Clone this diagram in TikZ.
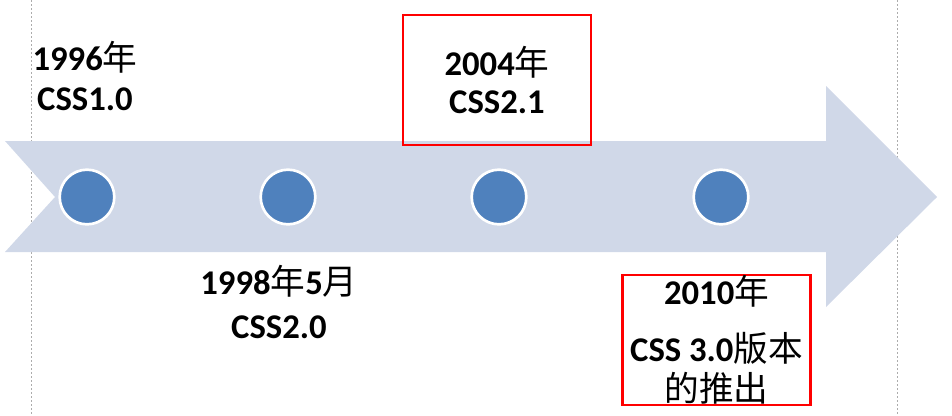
\documentclass[tikz,border=0pt]{standalone}
\usepackage{fontspec}
\setmainfont{Carlito}
\newfontfamily\zhfont{Noto Sans CJK SC}
\newcommand\cn[1]{{\zhfont\mdseries #1}}
\definecolor{shaftgrey}{HTML}{D0D8E8}
\definecolor{dotblue}{HTML}{4F81BD}
\begin{document}
\begin{tikzpicture}[
  x=0.75pt, y=-0.75pt,
  every node/.style={font=\fontsize{26}{30}\selectfont\bfseries, align=center, inner sep=0pt},
  label/.style={anchor=base},
  dot/.style={circle, fill=dotblue, draw=white, line width=2pt, minimum size=41pt},
  hilite/.style={draw=red, line width=2pt, minimum width=141pt, minimum height=97.5pt},
  guide/.style={gray!65, line width=0.7pt, dash pattern=on 1.5pt off 1.5pt}]

\useasboundingbox (0,0) rectangle (952,415);

% slide guides
\draw[guide] (31,0) -- (31,415);
\draw[guide] (897,0) -- (897,415);

% timeline arrow
\fill[shaftgrey] (5,141) -- (826,141) -- (826,86) -- (937,197) -- (826,307)
  -- (826,252) -- (5,252) -- (55,197) -- cycle;

\node[dot] (d1) at (87,197)  {};
\node[dot] (d2) at (288,197) {};
\node[dot] (d3) at (499,197) {};
\node[dot] (d4) at (721,197) {};

\node[label] (t1) at (85,110) {1996\cn{年}\\CSS1.0};
\node[label, font=\fontsize{26}{33}\selectfont\bfseries] (t2) at (279,338) {1998\cn{年}5\cn{月}\\CSS2.0};
\node[hilite, font=\fontsize{26}{28.5}\selectfont\bfseries] (t3) at (497,80) {2004\cn{年}\\CSS2.1};
\node[hilite] (t4) at (716.5,340) {2010\cn{年}\\[13pt]CSS 3.0\cn{版本}\\\cn{的推出}};
\end{tikzpicture}
\end{document}
